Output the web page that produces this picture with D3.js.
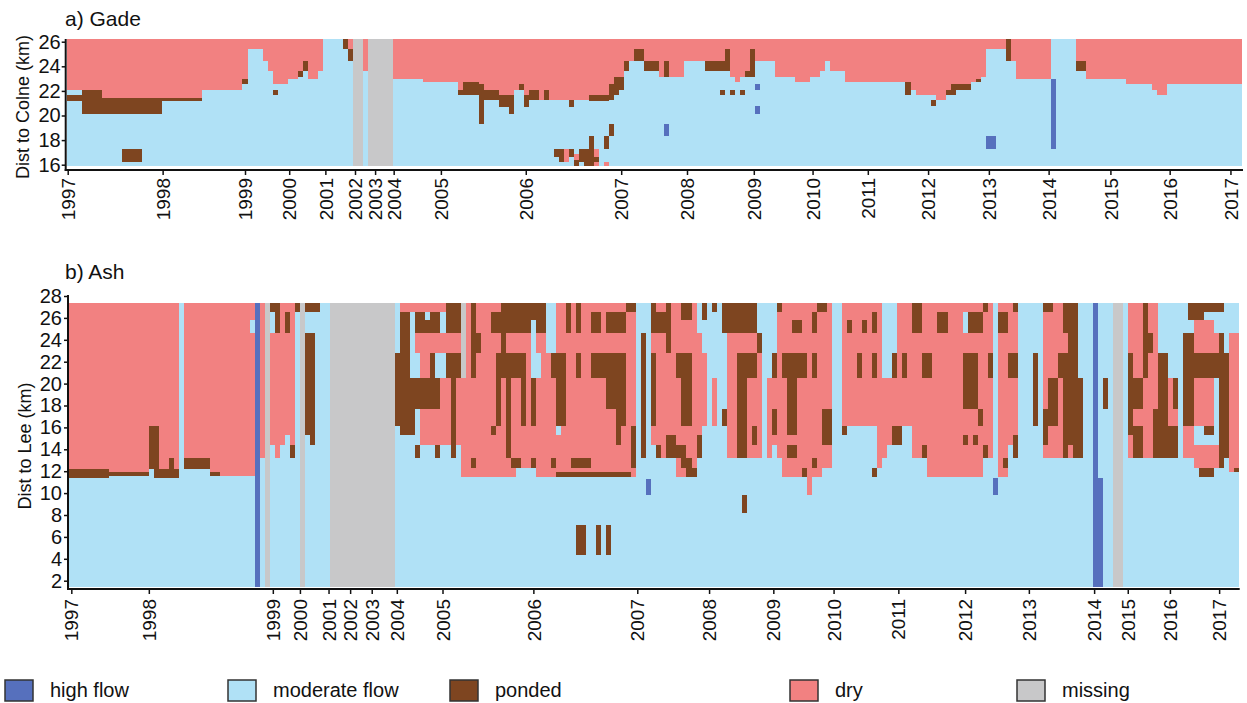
<!DOCTYPE html>
<html>
<head>
<meta charset="utf-8">
<script src="https://cdn.jsdelivr.net/npm/d3@7"></script>
<style>
  body { margin: 0; background: #fff; }
  text { font-family: "Liberation Sans", Arial, sans-serif; fill: #111; }
</style>
</head>
<body>
<script>
// ---- data ----
var stateCodes = ["h", "m", "p", "d", "x"];
var stateNames = ["high flow", "moderate flow", "ponded", "dry", "missing"];

var years = ["1997","1998","1999","2000","2001","2002","2003","2004","2005","2006","2007",
             "2008","2009","2010","2011","2012","2013","2014","2015","2016","2017"];

// survey index where each year starts
var gadeYearPos = [0.2, 19.1, 35.5, 44.3, 51.5, 57.4, 61.4, 65.1, 74.5, 91.4, 110.4,
                   123.5, 136.8, 148.5, 159.5, 171.5, 183.6, 195.5, 207.8, 219.6, 231.7];
var ashYearPos  = [0.46, 15.9, 40.6, 46.0, 51.7, 56.0, 60.3, 65.3, 74.4, 92.5, 113.2,
                   127.5, 140.3, 152.3, 165.2, 178.5, 191.2, 204.2, 210.9, 219.3, 229.1];

var gadeSurveys = 234;
var ashSurveys = 233;

var gadeKmTicks = [16, 18, 20, 22, 24, 26];
var ashKmTicks = [2, 4, 6, 8, 10, 12, 14, 16, 18, 20, 22, 24, 26, 28];

// [firstSurvey, lastSurvey(excl), km from, km to, state]
var gadeCells = [
  [0,234,15.92,26.19,"m"],
  [0,7,22.1,26.19,"d"],[7,27,21.4,26.19,"d"],[27,35,22.1,26.19,"d"],[35,36,23.0,26.19,"d"],
  [36,39,25.4,26.19,"d"],[39,40,24.4,26.19,"d"],[40,41,23.6,26.19,"d"],[41,44,22.6,26.19,"d"],
  [44,46,23.0,26.19,"d"],[46,47,23.6,26.19,"d"],[47,48,24.4,26.19,"d"],[48,50,23.0,26.19,"d"],
  [50,51,23.6,26.19,"d"],[56,57,25.4,26.19,"d"],[59,60,23.6,26.19,"d"],
  [65,71,23.0,26.19,"d"],[71,78,22.7,26.19,"d"],[78,79,22.1,26.19,"d"],[79,82,22.7,26.19,"d"],
  [82,83,22.6,26.19,"d"],[83,86,22.1,26.19,"d"],[86,89,21.7,26.19,"d"],[89,90,22.1,26.19,"d"],
  [90,91,22.6,26.19,"d"],[91,92,21.7,26.19,"d"],[92,94,22.1,26.19,"d"],[94,95,21.3,26.19,"d"],
  [95,96,22.1,26.19,"d"],[96,104,21.3,26.19,"d"],[104,108,21.7,26.19,"d"],[108,109,22.6,26.19,"d"],
  [109,111,23.1,26.19,"d"],[111,113,24.4,26.19,"d"],[113,115,25.4,26.19,"d"],[115,118,24.4,26.19,"d"],
  [118,119,23.1,26.19,"d"],[119,120,24.4,26.19,"d"],[120,121,23.15,26.19,"d"],[121,123,23.1,26.19,"d"],
  [123,131,24.4,26.19,"d"],[131,132,25.4,26.19,"d"],[132,133,23.15,26.19,"d"],[133,134,22.7,26.19,"d"],
  [134,135,23.15,26.19,"d"],[135,136,23.6,26.19,"d"],[136,137,25.4,26.19,"d"],[137,141,24.4,26.19,"d"],
  [141,145,23.1,26.19,"d"],[145,148,22.7,26.19,"d"],[148,150,23.1,26.19,"d"],[150,151,23.6,26.19,"d"],
  [151,152,24.4,26.19,"d"],[152,155,23.6,26.19,"d"],[155,168,22.7,26.19,"d"],[168,169,22.1,26.19,"d"],
  [169,173,21.7,26.19,"d"],[173,175,21.3,26.19,"d"],[175,176,22.1,26.19,"d"],[176,180,22.6,26.19,"d"],
  [180,181,22.7,26.19,"d"],[181,182,23.0,26.19,"d"],[182,183,23.15,26.19,"d"],[183,187,25.4,26.19,"d"],
  [188,189,24.4,26.19,"d"],[189,196,23.0,26.19,"d"],[201,203,24.4,26.19,"d"],[203,211,23.0,26.19,"d"],
  [211,216,22.6,26.19,"d"],[216,217,22.1,26.19,"d"],[217,219,21.7,26.19,"d"],[219,234,22.6,26.19,"d"],
  [99,100,16.25,17.25,"d"],[101,102,16.4,16.9,"d"],[105,106,15.92,17.25,"d"],[107,108,15.92,16.25,"d"],
  [0,3,21.2,21.7,"p"],[3,7,20.1,22.1,"p"],[7,19,20.1,21.4,"p"],[19,27,21.2,21.4,"p"],
  [11,15,16.25,17.25,"p"],[35,36,22.6,23.0,"p"],[41,42,21.7,22.1,"p"],[46,47,23.15,23.6,"p"],
  [47,48,23.6,24.4,"p"],[55,56,25.4,26.19,"p"],[56,57,24.4,25.4,"p"],
  [78,79,21.7,22.1,"p"],[79,82,21.7,22.7,"p"],[82,83,19.3,22.6,"p"],[83,86,21.3,22.1,"p"],
  [86,89,20.7,21.7,"p"],[88,89,20.1,20.7,"p"],[90,91,22.1,22.6,"p"],[91,92,20.7,21.7,"p"],
  [92,94,21.3,22.1,"p"],[95,96,21.3,22.1,"p"],[100,101,20.7,21.3,"p"],[104,108,21.2,21.7,"p"],
  [108,109,21.3,22.6,"p"],[109,110,21.7,23.1,"p"],[110,111,22.1,23.1,"p"],[111,112,23.6,24.4,"p"],
  [113,115,24.4,25.4,"p"],[115,118,23.6,24.4,"p"],[119,120,23.15,24.4,"p"],[127,131,23.6,24.4,"p"],
  [131,132,23.6,25.4,"p"],[130,131,21.7,22.1,"p"],[132,133,21.7,22.1,"p"],[134,135,21.7,22.1,"p"],
  [135,136,23.15,23.6,"p"],[136,137,23.15,25.4,"p"],[167,168,21.7,22.7,"p"],[172,173,20.8,21.3,"p"],
  [175,176,21.7,22.1,"p"],[176,177,21.7,22.6,"p"],[177,180,22.1,22.6,"p"],[181,182,22.7,23.0,"p"],
  [187,188,24.4,26.19,"p"],[201,203,23.6,24.4,"p"],
  [108,109,18.3,19.3,"p"],[107,108,17.3,18.3,"p"],[104,105,15.92,18.3,"p"],[97,99,16.65,17.25,"p"],
  [98,99,16.25,16.65,"p"],[100,101,16.65,17.25,"p"],[101,102,15.92,16.4,"p"],[102,104,16.25,17.25,"p"],
  [103,104,15.92,16.25,"p"],[105,106,16.25,16.65,"p"],
  [119,120,18.3,19.3,"h"],[137,138,22.1,22.6,"h"],[137,138,20.1,20.8,"h"],
  [183,185,17.25,18.3,"h"],[196,197,17.25,23.0,"h"],
  [57,59,15.92,26.19,"x"],[60,65,15.92,26.19,"x"]
];

var ashCells = [
  [0,233,1.45,27.4,"m"],
  // 1997 - 2003
  [0,8,12.2,27.4,"d"],[0,8,11.4,12.2,"p"],[8,16,11.95,27.4,"d"],[8,16,11.6,11.95,"p"],
  [16,22,12.2,27.4,"d"],[16,18,12.2,16.1,"p"],[17,22,11.4,12.2,"p"],[20,21,12.2,13.2,"p"],
  [23,28,13.2,27.4,"d"],[23,28,12.2,13.2,"p"],[28,30,11.95,27.4,"d"],[28,30,11.6,11.95,"p"],
  [30,37,11.6,27.4,"d"],[36,37,24.65,25.8,"m"],[37,38,1.45,27.4,"h"],[38,39,13.2,27.4,"d"],
  [39,40,1.45,27.4,"x"],[40,41,14.4,24.65,"d"],[40,41,26.5,27.4,"p"],[41,42,13.2,24.65,"d"],
  [41,42,24.65,27.4,"p"],[42,43,14.4,27.4,"d"],[43,44,15.3,27.4,"d"],[43,44,24.65,26.5,"p"],
  [44,45,14.4,27.4,"d"],[44,45,13.2,14.4,"p"],[45,46,26.5,27.4,"p"],[46,47,1.45,27.4,"x"],
  [47,50,26.5,27.4,"p"],[47,49,15.3,24.65,"p"],[48,49,14.4,15.3,"p"],[52,65,1.45,27.4,"x"],
  // 2004 - 2005
  [65,66,16.1,22.8,"p"],
  [66,68,26.5,27.4,"d"],[66,68,15.3,26.5,"p"],
  [68,69,26.5,27.4,"d"],[68,69,15.3,20.5,"p"],
  [69,78,22.8,24.65,"d"],[69,75,26.5,27.4,"d"],[69,74,24.65,26.5,"p"],[71,72,25.8,26.5,"m"],
  [74,75,24.65,26.5,"m"],[75,78,24.65,27.4,"p"],
  [70,72,20.5,22.8,"d"],[72,73,20.5,22.8,"p"],[75,78,20.5,22.8,"p"],
  [70,78,14.4,17.7,"d"],[74,78,17.7,20.5,"d"],
  [69,74,17.7,20.5,"p"],[76,77,13.2,20.5,"p"],
  [69,70,13.2,14.4,"p"],[73,74,13.2,14.4,"p"],
  [78,95,11.5,27.4,"d"],
  [78,79,20.5,27.4,"x"],
  [80,81,20.5,27.4,"p"],[80,82,22.8,24.65,"p"],[80,81,12.3,13.2,"p"],
  [84,95,24.65,26.5,"p"],[86,95,26.5,27.4,"p"],[86,87,22.8,24.65,"p"],
  [85,91,20.5,22.8,"p"],[84,85,15.3,16.1,"p"],[85,86,16.1,20.5,"p"],
  [87,88,13.2,20.5,"p"],[88,90,12.3,13.2,"p"],[90,91,16.1,20.5,"p"],
  [92,93,16.1,20.5,"p"],[92,93,20.5,25.8,"m"],[93,94,20.5,22.8,"m"],[89,93,11.5,12.3,"m"],
  [92,93,12.3,13.2,"p"],
  // 2006
  [95,113,11.5,27.4,"d"],[95,97,22.8,27.4,"m"],
  [96,99,20.5,22.8,"p"],[97,99,16.1,20.5,"p"],[97,98,15.3,16.1,"m"],
  [99,100,24.65,27.4,"p"],[101,102,24.65,27.4,"p"],[101,102,20.5,22.8,"p"],
  [104,106,24.65,26.5,"p"],[107,111,24.65,26.5,"p"],[111,113,26.5,27.4,"p"],
  [104,111,20.5,22.8,"p"],[107,109,17.7,20.5,"p"],[109,111,16.1,20.5,"p"],[109,110,14.4,16.1,"p"],
  [112,113,12.3,16.1,"p"],
  [96,97,12.3,13.2,"p"],[100,104,12.3,13.2,"p"],[97,112,11.5,11.95,"p"],
  [114,115,13.2,24.65,"p"],[115,116,9.8,11.3,"h"],
  [116,118,14.4,27.4,"d"],[116,117,24.65,27.4,"p"],[116,117,16.1,22.8,"p"],
  [101,103,4.35,7.1,"p"],[105,106,4.35,7.1,"p"],[107,108,4.35,7.1,"p"],
  // 2007 - 2009
  [117,121,13.2,27.4,"d"],[117,119,24.65,26.5,"p"],[117,118,13.2,14.4,"p"],[119,120,22.8,27.4,"p"],
  [119,121,13.2,15.3,"p"],[121,122,25.8,26.5,"m"],[121,125,11.5,27.4,"d"],[121,124,20.5,22.8,"p"],
  [122,124,16.1,20.5,"p"],[122,124,25.8,27.4,"p"],[121,123,13.2,14.4,"p"],[122,124,12.3,13.2,"p"],
  [123,125,11.5,12.3,"p"],[125,126,13.2,24.65,"d"],[125,126,13.2,15.3,"p"],[126,127,25.8,27.4,"p"],
  [126,127,16.1,22.8,"d"],[128,129,26.5,27.4,"p"],[128,129,16.1,20.5,"d"],[130,131,16.1,17.7,"p"],
  [131,137,13.2,24.65,"d"],[130,137,24.65,27.4,"p"],[133,137,20.5,22.8,"p"],[133,135,13.2,20.5,"p"],
  [136,137,14.4,16.1,"p"],[134,135,8.15,9.8,"p"],[137,138,22.8,24.65,"p"],[137,138,13.2,22.8,"d"],
  [139,140,13.2,20.5,"d"],[140,141,14.4,22.8,"d"],[140,141,20.5,22.8,"p"],[140,141,15.3,17.7,"p"],
  [141,142,13.2,27.4,"d"],[141,142,26.5,27.4,"p"],[142,147,11.5,27.4,"d"],[144,146,24.65,25.8,"p"],
  [142,147,20.5,22.8,"p"],[143,145,15.3,20.5,"p"],[143,145,13.2,14.4,"p"],[146,147,11.5,12.3,"p"],
  [147,150,11.5,27.4,"d"],[150,152,12.3,27.4,"d"],[147,148,9.8,11.5,"d"],[149,151,26.5,27.4,"p"],
  [148,149,24.65,26.5,"p"],[148,149,20.5,22.8,"p"],[150,152,14.4,17.7,"p"],[148,149,12.3,13.2,"p"],
  // 2010 - 2012
  [154,178,16.1,27.4,"d"],[161,162,12.3,16.1,"d"],[162,163,13.2,16.1,"d"],[163,164,14.4,16.1,"d"],
  [168,171,13.2,16.1,"d"],[171,178,11.5,16.1,"d"],[162,165,20.5,27.4,"m"],[155,156,24.65,25.8,"p"],
  [158,159,24.65,25.8,"p"],[160,161,24.65,26.5,"p"],[168,170,24.65,27.4,"p"],[173,175,24.65,26.5,"p"],
  [157,158,20.5,22.8,"p"],[160,161,20.5,22.8,"p"],[164,165,20.5,22.8,"p"],[166,167,20.5,22.8,"p"],
  [170,172,20.5,22.8,"p"],[154,155,15.3,16.1,"p"],[164,166,14.4,16.1,"p"],[160,161,11.5,12.3,"p"],
  [170,171,13.2,14.4,"p"],
  // 2012 - 2017
  [178,182,11.5,27.4,"d"],[182,184,13.2,27.4,"d"],[178,179,24.65,26.5,"m"],[179,182,24.65,26.5,"p"],
  [182,183,26.5,27.4,"p"],[178,181,17.7,22.8,"p"],[181,182,16.1,17.7,"p"],[178,179,14.4,15.3,"p"],
  [180,181,14.4,15.3,"p"],[182,183,13.2,14.4,"p"],[183,184,20.5,22.8,"p"],[184,185,9.8,11.35,"h"],
  [185,187,11.5,27.4,"d"],[185,187,24.65,26.5,"p"],[186,187,12.3,13.2,"p"],[187,189,14.4,27.4,"d"],
  [187,189,20.5,22.8,"p"],[188,189,26.5,27.4,"p"],[188,189,13.2,15.3,"p"],[192,193,16.1,22.8,"p"],
  [194,198,13.2,27.4,"d"],[194,196,26.5,27.4,"p"],[194,195,14.4,17.7,"p"],[195,197,16.1,20.5,"p"],
  [197,198,20.5,22.8,"p"],[198,201,13.2,27.4,"p"],[198,199,22.8,24.65,"d"],[199,200,13.2,14.4,"d"],
  [201,202,13.2,20.5,"p"],[204,205,1.45,27.4,"h"],[205,206,1.45,11.35,"h"],[206,207,17.7,20.5,"p"],
  [208,210,1.45,27.4,"x"],[211,216,13.2,27.4,"d"],[216,217,16.1,27.4,"d"],[211,212,15.3,22.8,"p"],
  [214,215,20.5,27.4,"p"],[212,214,17.7,20.5,"p"],[212,214,13.2,16.1,"p"],[214,216,22.8,24.65,"p"],
  [216,221,13.2,17.7,"p"],[217,218,17.7,22.8,"p"],[218,219,16.1,22.8,"p"],[219,221,16.1,20.5,"d"],
  [220,221,17.7,20.5,"p"],[222,224,13.2,16.1,"d"],[222,224,16.1,24.65,"p"],[223,230,26.5,27.4,"p"],
  [223,226,25.8,26.5,"p"],[224,228,22.8,25.8,"d"],[222,228,20.5,22.8,"p"],[224,228,16.1,20.5,"d"],
  [224,229,12.3,14.4,"d"],[226,228,15.3,16.1,"p"],[225,228,11.5,12.3,"p"],[228,229,22.8,24.65,"d"],
  [228,229,20.5,22.8,"p"],[229,230,12.3,24.65,"p"],[230,231,13.2,22.8,"p"],[231,233,11.95,24.65,"d"],
  [232,233,11.95,12.3,"p"]
];

// ---- drawing ----
var colorOf = { h: "#5670bd", m: "#b0e1f6", p: "#7e4520", d: "#f28181", x: "#c8c8c9" };

var svg = d3.select('body').append('svg')
    .attr('width', 1247)
    .attr('height', 703);

function drawPanel(cfg) {
    var x = d3.scaleLinear().domain([0, cfg.surveys]).range([cfg.left, cfg.right]);
    var y = d3.scaleLinear().domain(cfg.kmDomain).range(cfg.kmRange);

    var g = svg.append('g');

    // round edges so neighbouring cells butt together without seams
    g.selectAll('rect.cell')
        .data(cfg.cells)
        .enter().append('rect')
        .attr('class', 'cell')
        .attr('shape-rendering', 'crispEdges')
        .attr('x', function(d) { return Math.round(x(d[0])); })
        .attr('width', function(d) { return Math.round(x(d[1])) - Math.round(x(d[0])); })
        .attr('y', function(d) { return Math.round(y(d[3])); })
        .attr('height', function(d) { return Math.round(y(d[2])) - Math.round(y(d[3])); })
        .attr('fill', function(d) { return colorOf[d[4]]; });

    // y axis
    var yAxis = d3.axisLeft(y).tickValues(cfg.kmTicks).tickSize(4).tickPadding(cfg.yPad).tickSizeOuter(0);
    var yg = g.append('g').attr('transform', 'translate(' + cfg.axisX + ',0)').call(yAxis);
    yg.select('.domain').remove();
    yg.selectAll('line').attr('stroke', '#111').attr('stroke-width', 1.5);
    yg.selectAll('text').attr('font-size', 20).attr('font-family', '"Liberation Sans", Arial, sans-serif');
    g.append('line')
        .attr('x1', cfg.axisX).attr('x2', cfg.axisX)
        .attr('y1', cfg.axisTop).attr('y2', cfg.axisY + 1)
        .attr('stroke', '#111').attr('stroke-width', 2);

    // x axis
    var xAxis = d3.axisBottom(x).tickValues(cfg.yearPos)
        .tickFormat(function(d, i) { return years[i]; })
        .tickSize(5).tickSizeOuter(0);
    var xg = g.append('g').attr('transform', 'translate(0,' + cfg.axisY + ')').call(xAxis);
    xg.select('.domain').remove();
    xg.selectAll('line').attr('stroke', '#111').attr('stroke-width', 1.5);
    xg.selectAll('text')
        .attr('font-size', 19)
        .attr('font-family', '"Liberation Sans", Arial, sans-serif')
        .attr('transform', 'rotate(-90)')
        .attr('text-anchor', 'end')
        .attr('x', -cfg.xLabelOff)
        .attr('y', 0)
        .attr('dy', '0.35em');
    g.append('line')
        .attr('x1', cfg.axisX - 1).attr('x2', cfg.right + 1)
        .attr('y1', cfg.axisY).attr('y2', cfg.axisY)
        .attr('stroke', '#111').attr('stroke-width', 2);

    // labels
    g.append('text')
        .attr('x', 65).attr('y', cfg.titleY)
        .attr('font-size', 21)
        .text(cfg.title);
    g.append('text')
        .attr('transform', 'translate(' + cfg.labelX + ',' + cfg.labelY + ') rotate(-90)')
        .attr('text-anchor', 'middle')
        .attr('font-size', 18)
        .text(cfg.yLabel);
}

drawPanel({
    title: 'a) Gade', titleY: 26, yLabel: 'Dist to Colne (km)', labelX: 29, labelY: 107,
    surveys: gadeSurveys, left: 66.7, right: 1242,
    kmDomain: [16, 26], kmRange: [164.7, 41.7], kmTicks: gadeKmTicks,
    cells: gadeCells, yearPos: gadeYearPos,
    axisX: 65.7, axisY: 170, axisTop: 39, yPad: 1, xLabelOff: 8
});

drawPanel({
    title: 'b) Ash', titleY: 279, yLabel: 'Dist to Lee (km)', labelX: 31, labelY: 446,
    surveys: ashSurveys, left: 69, right: 1238.7,
    kmDomain: [2, 28], kmRange: [580.7, 296], kmTicks: ashKmTicks,
    cells: ashCells, yearPos: ashYearPos,
    axisX: 68, axisY: 589, axisTop: 295, yPad: 2, xLabelOff: 10
});

// legend
var legendX = [5, 228, 450, 790, 1017];
var legend = svg.append('g').selectAll('g')
    .data(stateCodes)
    .enter().append('g')
    .attr('transform', function(d, i) { return 'translate(' + legendX[i] + ',680)'; });
legend.append('rect')
    .attr('width', 28).attr('height', 21)
    .attr('fill', function(d) { return colorOf[d]; })
    .attr('stroke', '#333').attr('stroke-width', 1.5);
legend.append('text')
    .attr('x', 45).attr('y', 17)
    .attr('font-size', 20)
    .text(function(d, i) { return stateNames[i]; });
</script>
</body>
</html>
